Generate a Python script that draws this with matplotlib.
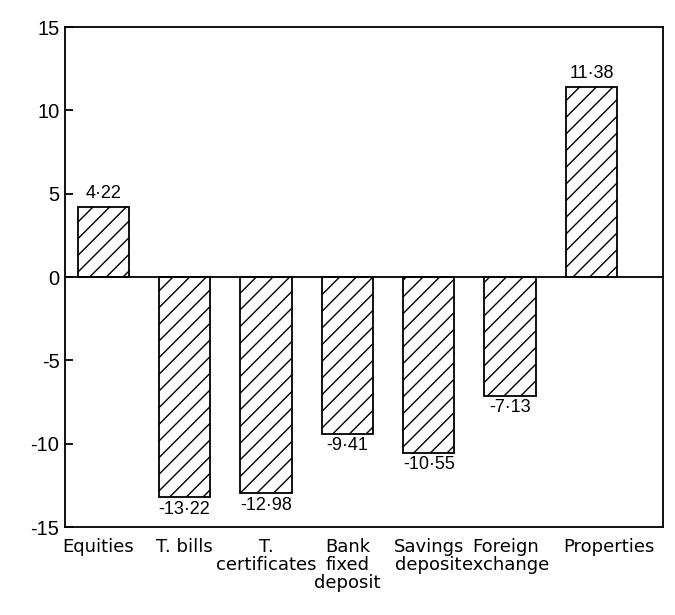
import matplotlib
matplotlib.use("Agg")
import matplotlib.pyplot as plt
from matplotlib.transforms import ScaledTranslation

categories = ["Equities", "T. bills", "T.\ncertificates", "Bank\nfixed\ndeposit",
              "Savings\ndeposit", "Foreign\nexchange", "Properties"]
values = [4.22, -13.22, -12.98, -9.41, -10.55, -7.13, 11.38]
value_labels = ["4·22", "-13·22", "-12·98", "-9·41", "-10·55", "-7·13", "11·38"]
yticks = [15, 10, 5, 0, -5, -10, -15]

plt.rcParams['font.family'] = ['Liberation Sans', 'DejaVu Sans']
plt.rcParams['hatch.linewidth'] = 1.0

fig = plt.figure(figsize=(6.75, 6.15), dpi=100)
ax = fig.add_axes([0.0963, 0.143, 0.886, 0.813])

x = list(range(len(categories)))
bars = ax.bar(x, values, width=0.63, facecolor="white", edgecolor="black",
              hatch="//", linewidth=1.3)
ax.axhline(0, color="black", linewidth=1.3)

for xi, v, lab in zip(x, values, value_labels):
    if v >= 0:
        ax.text(xi, v + 0.3, lab, ha="center", va="bottom", fontsize=13)
    else:
        ax.text(xi, v - 0.2, lab, ha="center", va="top", fontsize=13)

ax.set_xlim(-0.47, 6.88)
ax.set_ylim(-15, 15)
ax.set_yticks(yticks)
ax.set_yticklabels([str(t) for t in yticks], fontsize=14.5)
ax.tick_params(axis="y", direction="in", length=6, width=1.3, pad=4)
ax.set_xticks(x)
ax.set_xticklabels(categories, fontsize=13, linespacing=1.0,
                   family=['DejaVu Sans'])
ax.tick_params(axis="x", length=0, pad=8)
for s in ax.spines.values():
    s.set_linewidth(1.3)

# nudge labels as in the reference
shifts = {0: -0.05, 5: -0.04, 6: 0.17}
for i, lbl in enumerate(ax.get_xticklabels()):
    if i in shifts:
        lbl.set_transform(lbl.get_transform() +
                          ScaledTranslation(shifts[i], 0, fig.dpi_scale_trans))

fig.savefig("out.png", dpi=100)
